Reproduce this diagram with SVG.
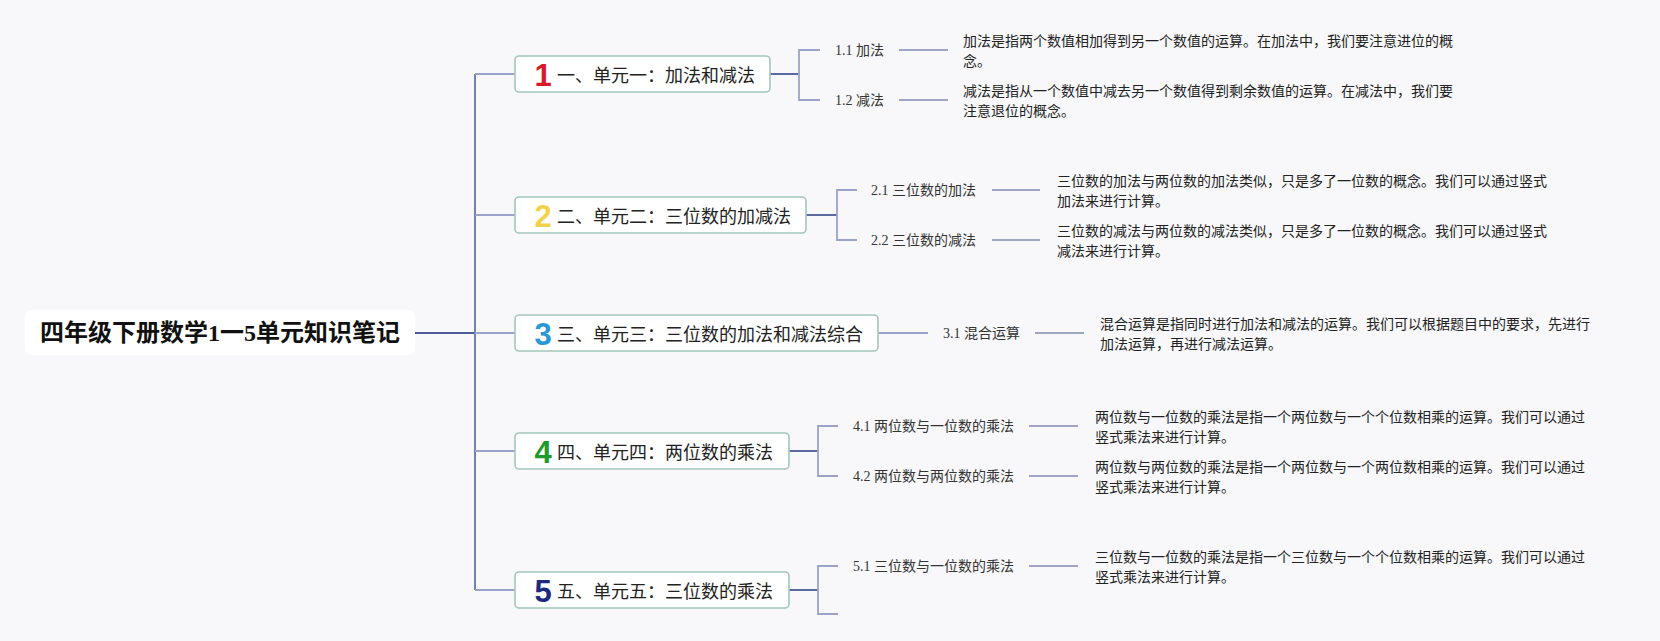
<svg xmlns="http://www.w3.org/2000/svg" width="1660" height="641" viewBox="0 0 1660 641">
<style>
.bg{fill:#f8f8fa}
.root{fill:#ffffff}
.roott{font-family:"Liberation Serif","Noto Sans CJK SC",serif;font-weight:bold;font-size:24px;fill:#111;text-anchor:middle;dominant-baseline:central}
.box{fill:#ffffff;stroke:#a3c7bb;stroke-width:1.6}
.num{font-family:"Liberation Sans","DejaVu Sans",sans-serif;font-weight:bold;font-size:31px;text-anchor:middle;dominant-baseline:central}
.nt{font-family:"Noto Sans CJK SC",sans-serif;font-size:18px;fill:#222;dominant-baseline:central}
.lab{font-family:"Liberation Serif","Noto Sans CJK SC",serif;font-size:14px;fill:#333;dominant-baseline:central}
.desc{font-family:"Noto Sans CJK SC",sans-serif;font-size:14px;fill:#222;dominant-baseline:central}
.rootline{fill:none;stroke:#4d5c98;stroke-width:2.2}
.trunk{fill:none;stroke:#7480b4;stroke-width:2}
.br{fill:none;stroke:#9aa3c9;stroke-width:1.8}
.dk{fill:none;stroke:#5d6aa2;stroke-width:2}
.lt{fill:none;stroke:#9ea6c4;stroke-width:2}
</style>
<rect class="bg" x="0" y="0" width="1660" height="641"/>
<g id="connectors">
  <path class="rootline" d="M415,333 H475"/>
  <path class="trunk" d="M475,74 V590"/>
  <path class="br" d="M475,74 H515 M475,215 H515 M475,333 H515 M475,451 H515 M475,590 H515"/>
  <path class="dk" d="M770,74 H799"/>
  <path class="br" d="M820,50 H799 V100 H820"/>
  <path class="lt" d="M899,50 H948 M899,100 H948"/>
  <path class="dk" d="M806,215 H837"/>
  <path class="br" d="M857,190 H837 V240 H857"/>
  <path class="lt" d="M992,190 H1040 M992,240 H1040"/>
  <path class="br" d="M878,333 H928"/>
  <path class="lt" d="M1035,333 H1084"/>
  <path class="dk" d="M789,451 H818"/>
  <path class="br" d="M838,426 H818 V476 H838"/>
  <path class="lt" d="M1029,426 H1078 M1029,476 H1078"/>
  <path class="dk" d="M789,590 H818"/>
  <path class="br" d="M838,566 H818 V614 H838"/>
  <path class="lt" d="M1029,566 H1078"/>
</g>
<g id="root">
  <rect class="root" x="25" y="310" width="390" height="45" rx="7"/>
  <text class="roott" x="220" y="333">四年级下册数学1一5单元知识笔记</text>
</g>
<g id="node1">
  <rect class="box" x="515" y="56" width="255" height="36" rx="4"/>
  <text class="num" x="543" y="75" fill="#d71a2c">1</text>
  <text class="nt" x="557" y="74">一、单元一：加法和减法</text>
</g>
<g id="node1-1">
  <text class="lab" x="835" y="50">1.1 加法</text>
  <text class="desc" x="963" y="40">加法是指两个数值相加得到另一个数值的运算。在加法中，我们要注意进位的概</text>
  <text class="desc" x="963" y="60">念。</text>
</g>
<g id="node1-2">
  <text class="lab" x="835" y="100">1.2 减法</text>
  <text class="desc" x="963" y="90">减法是指从一个数值中减去另一个数值得到剩余数值的运算。在减法中，我们要</text>
  <text class="desc" x="963" y="110">注意退位的概念。</text>
</g>
<g id="node2">
  <rect class="box" x="515" y="197" width="291" height="36" rx="4"/>
  <text class="num" x="543" y="216" fill="#f2d24a">2</text>
  <text class="nt" x="557" y="215">二、单元二：三位数的加减法</text>
</g>
<g id="node2-1">
  <text class="lab" x="871" y="190">2.1 三位数的加法</text>
  <text class="desc" x="1057" y="180">三位数的加法与两位数的加法类似，只是多了一位数的概念。我们可以通过竖式</text>
  <text class="desc" x="1057" y="200">加法来进行计算。</text>
</g>
<g id="node2-2">
  <text class="lab" x="871" y="240">2.2 三位数的减法</text>
  <text class="desc" x="1057" y="230">三位数的减法与两位数的减法类似，只是多了一位数的概念。我们可以通过竖式</text>
  <text class="desc" x="1057" y="250">减法来进行计算。</text>
</g>
<g id="node3">
  <rect class="box" x="515" y="315" width="363" height="36" rx="4"/>
  <text class="num" x="543" y="334" fill="#2b98d6">3</text>
  <text class="nt" x="557" y="333">三、单元三：三位数的加法和减法综合</text>
</g>
<g id="node3-1">
  <text class="lab" x="943" y="333">3.1 混合运算</text>
  <text class="desc" x="1100" y="323">混合运算是指同时进行加法和减法的运算。我们可以根据题目中的要求，先进行</text>
  <text class="desc" x="1100" y="343">加法运算，再进行减法运算。</text>
</g>
<g id="node4">
  <rect class="box" x="515" y="433" width="274" height="36" rx="4"/>
  <text class="num" x="543" y="452" fill="#1f9a2b">4</text>
  <text class="nt" x="557" y="451">四、单元四：两位数的乘法</text>
</g>
<g id="node4-1">
  <text class="lab" x="853" y="426">4.1 两位数与一位数的乘法</text>
  <text class="desc" x="1095" y="416">两位数与一位数的乘法是指一个两位数与一个个位数相乘的运算。我们可以通过</text>
  <text class="desc" x="1095" y="436">竖式乘法来进行计算。</text>
</g>
<g id="node4-2">
  <text class="lab" x="853" y="476">4.2 两位数与两位数的乘法</text>
  <text class="desc" x="1095" y="466">两位数与两位数的乘法是指一个两位数与一个两位数相乘的运算。我们可以通过</text>
  <text class="desc" x="1095" y="486">竖式乘法来进行计算。</text>
</g>
<g id="node5">
  <rect class="box" x="515" y="572" width="274" height="36" rx="4"/>
  <text class="num" x="543" y="591" fill="#1b2a7e">5</text>
  <text class="nt" x="557" y="590">五、单元五：三位数的乘法</text>
</g>
<g id="node5-1">
  <text class="lab" x="853" y="566">5.1 三位数与一位数的乘法</text>
  <text class="desc" x="1095" y="556">三位数与一位数的乘法是指一个三位数与一个个位数相乘的运算。我们可以通过</text>
  <text class="desc" x="1095" y="576">竖式乘法来进行计算。</text>
</g>
</svg>
